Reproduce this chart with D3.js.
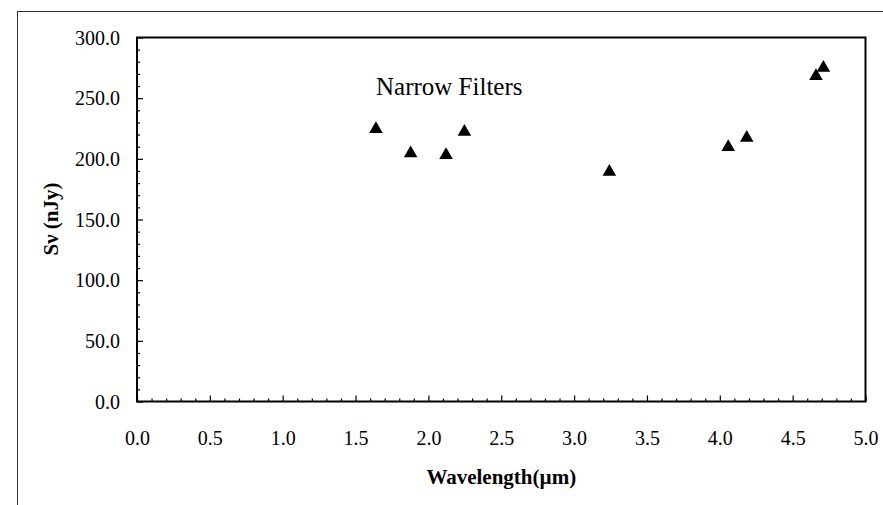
<!DOCTYPE html>
<html>
<head>
<meta charset="utf-8">
<script src="https://cdn.jsdelivr.net/npm/d3@7"></script>
<style>
  html, body { margin: 0; padding: 0; background: #fff; }
  svg { display: block; }
</style>
</head>
<body>
<svg id="chart" width="883" height="505"></svg>
<script>
// Data
const wavelength = [1.64, 1.878, 2.121, 2.247, 3.242, 4.058, 4.185, 4.660, 4.711];
const fluxDensity = [225.3, 205.3, 203.9, 223.1, 190.2, 210.5, 218.2, 269.0, 275.8];
const xTickValues = [0, 0.5, 1.0, 1.5, 2.0, 2.5, 3.0, 3.5, 4.0, 4.5, 5.0];
const yTickValues = [0, 50, 100, 150, 200, 250, 300];
const xTitle = "Wavelength(\u00b5m)";
const yTitle = "S\u03bd (nJy)";
const annotation = "Narrow Filters";

const FONT = "Liberation Serif";

const svg = d3.select("#chart");
const W = 883, H = 505;
const plot = { left: 137, top: 37.5, right: 865.5, bottom: 401.5 };

svg.append("rect").attr("x", 0).attr("y", 0).attr("width", W).attr("height", H).attr("fill", "#fff");
// outer frame
svg.append("rect").attr("x", 17.5).attr("y", 11.5).attr("width", W).attr("height", H)
  .attr("fill", "none").attr("stroke", "#333").attr("stroke-width", 1);

const x = d3.scaleLinear().domain([0, 5]).range([plot.left, plot.right]);
const y = d3.scaleLinear().domain([0, 300]).range([plot.bottom, plot.top]);

const xMinor = d3.range(0, 51).map(i => i / 10).filter(v => Math.round(v * 10) % 5 !== 0);
const yMinor = d3.range(0, 301, 10).filter(v => v % 50 !== 0);

const gx = svg.append("g").attr("transform", `translate(0,${plot.bottom})`);
gx.call(d3.axisBottom(x).tickValues(xMinor).tickSize(-3).tickFormat(""));
gx.select(".domain").remove();
const gx2 = svg.append("g").attr("transform", `translate(0,${plot.bottom})`);
gx2.call(d3.axisBottom(x).tickValues(xTickValues).tickSize(-6).tickPadding(0).tickFormat(d3.format(".1f")));
gx2.select(".domain").remove();
gx2.attr("font-family", FONT).attr("font-size", 20);
gx2.selectAll("text").attr("y", 43).attr("dy", null).attr("fill", "#000");

const gy = svg.append("g").attr("transform", `translate(${plot.left},0)`);
gy.call(d3.axisLeft(y).tickValues(yMinor).tickSize(-3).tickFormat(""));
gy.select(".domain").remove();
const gy2 = svg.append("g").attr("transform", `translate(${plot.left},0)`);
gy2.call(d3.axisLeft(y).tickValues(yTickValues).tickSize(-6).tickFormat(d3.format(".1f")));
gy2.select(".domain").remove();
gy2.attr("font-family", FONT).attr("font-size", 20);
gy2.selectAll("text").attr("x", -17).attr("dy", "0.34em").attr("fill", "#000");

svg.selectAll(".tick line").attr("stroke", "#000").attr("stroke-width", 1.2);

// plot frame
svg.append("rect").attr("x", plot.left).attr("y", plot.top)
  .attr("width", plot.right - plot.left).attr("height", plot.bottom - plot.top)
  .attr("fill", "none").attr("stroke", "#000").attr("stroke-width", 2);

// points
const tri = d3.symbol().type(d3.symbolTriangle).size(80);
svg.append("g").selectAll("path").data(wavelength).join("path")
  .attr("d", tri)
  .attr("transform", (d, i) => `translate(${x(d)},${y(fluxDensity[i]) + 1})`)
  .attr("fill", "#000");

// annotation
svg.append("text").attr("x", 376).attr("y", 95)
  .attr("font-family", FONT).attr("font-size", 25).text(annotation);

// axis titles
svg.append("text").attr("x", (plot.left + plot.right) / 2).attr("y", 484)
  .attr("text-anchor", "middle").attr("font-family", FONT).attr("font-size", 21)
  .attr("font-weight", "bold").text(xTitle);
svg.append("text").attr("transform", "translate(58,219) rotate(-90)")
  .attr("text-anchor", "middle").attr("font-family", FONT).attr("font-size", 21)
  .attr("font-weight", "bold").text(yTitle);
</script>
</body>
</html>
